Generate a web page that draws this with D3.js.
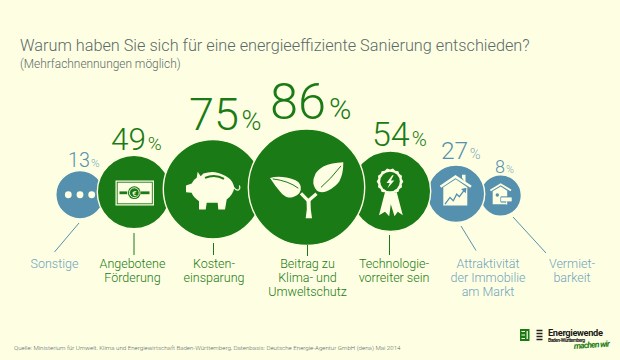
<!DOCTYPE html>
<html><head><meta charset="utf-8">
<script src="https://cdn.jsdelivr.net/npm/d3@7"></script>
<style>html,body{margin:0;padding:0;background:#FEFFE2;overflow:hidden}text{font-family:Roboto,sans-serif;font-weight:300}</style>
</head><body><svg id="c" width="620" height="360"></svg>
<script>
const categories = [["Sonstige"],["Angebotene","Förderung"],["Kosten-","einsparung"],["Beitrag zu","Klima- und","Umweltschutz"],["Technologie-","vorreiter sein"],["Attraktivität","der Immobilie","am Markt"],["Vermiet-","barkeit"]];
const values = [13,49,75,86,54,27,8];
const highlighted = [false,true,true,true,true,false,false];
const icons = ["dots","money","pig","plant","award","houseChart","houseSign"];
const title = "Warum haben Sie sich für eine energieeffiziente Sanierung entschieden?";
const subtitle = "(Mehrfachnennungen möglich)";
const source = "Quelle: Ministerium für Umwelt, Klima und Energiewirtschaft Baden-Württemberg, Datenbasis: Deutsche Energie-Agentur GmbH (dena) Mai 2014";

const BG="#FEFFE2",GREEN="#1A7A15",BLUE="#5590AE",LBLUE="#6FA3BE",TEXT="#5C6A6A";
const svg=d3.select("#c");
svg.append("rect").attr("width",620).attr("height",360).attr("fill",BG);
svg.append("text").attr("x",20).attr("y",50.5).attr("font-size",16.25).attr("fill",TEXT).text(title);
svg.append("text").attr("x",20).attr("y",68).attr("font-size",11.9).attr("fill",TEXT).text(subtitle);

const r=d3.scaleLinear().domain([8,13,27,49,54,75,86]).range([20,23.5,28,36,39.5,49,57.5]);
const cyOf=d3.scaleLinear().domain([20,57.5]).range([195.5,187.3]);
const overlap=[5.5,6,13,13,2,3.3];
const nodes=[];let cx=80;
values.forEach((v,i)=>{ if(i>0) cx+=r(values[i-1])+r(v)-overlap[i-1]; nodes.push({v,i,cx,cy:cyOf(r(v)),r:r(v)}); });

const order=d3.range(values.length).sort((a,b)=>values[a]-values[b]);
const gc=svg.append("g");
order.forEach(i=>{const n=nodes[i];
  gc.append("circle").attr("cx",n.cx).attr("cy",n.cy).attr("r",n.r+0.7).attr("fill",highlighted[i]?GREEN:BLUE).attr("stroke",BG).attr("stroke-width",1.4);
  const g=gc.append("g").attr("transform",`translate(${n.cx},${n.cy})`);
  drawIcon(g,icons[i],highlighted[i]?GREEN:BLUE);
});

function drawIcon(g,k,col){
  const P=(d,f=BG)=>g.append("path").attr("d",d).attr("fill",f);
  const S=(d,w=1,c=BG)=>g.append("path").attr("d",d).attr("fill","none").attr("stroke",c).attr("stroke-width",w);
  if(k==="dots"){[-11.7,0,11.7].forEach(x=>g.append("circle").attr("cx",x).attr("r",3.4).attr("fill",BG));}
  if(k==="money"){
    g.append("rect").attr("x",-18.5).attr("y",-11.5).attr("width",38.5).attr("height",25).attr("fill",BG);
    g.append("rect").attr("x",-16.8).attr("y",-9.8).attr("width",35.1).attr("height",21.6).attr("fill","none").attr("stroke",col).attr("stroke-width",.9);
    g.append("rect").attr("x",-14.5).attr("y",-.6).attr("width",30).attr("height",2.8).attr("fill",col);
    g.append("rect").attr("x",-6.8).attr("y",-.9).attr("width",13.6).attr("height",3.4).attr("fill",BG);
    g.append("circle").attr("cx",0.3).attr("cy",.7).attr("r",6.4).attr("fill",col);
    g.append("circle").attr("cx",0.3).attr("cy",.7).attr("r",4.9).attr("fill","none").attr("stroke",BG).attr("stroke-width",.9);
    g.append("text").attr("x",0.3).attr("y",3.6).attr("text-anchor","middle").attr("font-size",8).attr("fill",BG).style("font-weight",500).text("€");
  }
  if(k==="pig"){
    P("M-27,-3.6 L-27,3 L-21.3,3.7 Q-20,8 -14,12 L-14,20.4 L-7.3,20.4 L-6.3,13.7 L4.7,13.7 L5.3,20.4 L12,20.4 L13.7,10.4 Q20,6 21.3,-1.3 Q20,-8 15.3,-11.3 Q9,-16 2,-17 Q-4,-17.5 -9.7,-15.6 L-12.3,-13 L-15.3,-17.3 L-16.3,-11.3 Q-20,-9 -21.3,-5.6 Z");
    S("M21,-1.5 Q23,1.5 25.5,0.8 Q27.8,-.8 26.3,-3.6",1.1);
    S("M-8,-11.3 Q2,-15.5 11,-10.3",1.9,col);
  }
  if(k==="plant"){
    P("M-36.5,-9.4 Q-26,-12.5 -11.5,-7.4 Q-6.5,-5 -5.8,-.7 Q-5,3 -7.2,5.9 Q-12,10.5 -18.2,10.3 Q-23,9 -26.5,4.3 Q-31,-1 -36.5,-9.4 Z");
    S("M-33.8,-8.4 Q-18,-6.5 -8.2,.9",1,col);
    P("M36.8,-25 Q25,-24.5 16.8,-20.7 Q10.5,-17 8.5,-12.4 Q6.2,-8 6.8,-4 Q8,2 11.8,4.3 Q17,6 21.8,3.3 Q29,-.5 32.8,-5.7 Q37,-14 36.8,-25 Z");
    S("M34.5,-21.4 Q24,-8 14.5,0",1,col);
    S("M-5.5,6 L1.8,13.5 L10,6.5",3.2);
    P("M0,12 L4,12 L4.3,22 L5.5,31 L-.8,31 L.3,22 Z");
  }
  if(k==="award"){
    const n=14,spikes=d3.range(n*2).map(i=>{const a=i/(n*2)*2*Math.PI,rr=i%2?12:13.3;return [-.5+rr*Math.cos(a),-9.7+rr*Math.sin(a)];});
    P(d3.line()(spikes)+"Z");
    g.append("circle").attr("cx",-.5).attr("cy",-9.7).attr("r",9.8).attr("fill",col);
    P("M1.7,-16 L-4,-8.3 L-.7,-8.3 L-3,-3 L3.8,-10.8 L0.4,-10.8 L3.2,-16 Z");
    P("M-5.5,.8 L-11.5,24 L-5.5,20.5 L-1.3,25 L.3,13 L4,25 L7.3,20.5 L12.3,24 L6.2,.8 Q.3,3 -5.5,.8 Z");
  }
  if(k==="houseChart"){
    S("M-15.5,-7 L-.5,-17.2 L15,-7",2.6);
    P("M6,-16 L6,-19 L9.5,-19 L9.5,-11 Z");
    P("M-12.7,-6.6 L-.3,-14.4 L11.3,-6.6 L11.3,11.7 L-12.7,11.7 Z");
    S("M-11,10.4 L-6,3.7 L-2.7,7 L.7,.4 L3.3,3 L8.5,-3.8",1.3,col);
    P("M5,-4.8 L10.5,-6 L9.8,-.5 Z",col);
  }
  if(k==="houseSign"){
    S("M-10.3,-5 L0,-11.2 L10.3,-5",1.9);
    P("M-8,-4.3 L0,-9 L6.5,-4.8 L6.5,.9 L.3,.9 L.3,7 L4.5,7 L6,8.8 L-8,8.8 Z");
    g.append("circle").attr("cx",-3.4).attr("cy",-.5).attr("r",1.7).attr("fill",col);
    g.append("rect").attr("x",-.3).attr("y",1.2).attr("width",12).attr("height",5.4).attr("fill",col);
    g.append("rect").attr("x",.4).attr("y",1.9).attr("width",10.6).attr("height",4).attr("fill",BG);
    g.append("rect").attr("x",5.2).attr("y",5.9).attr("width",1.3).attr("height",3).attr("fill",BG);
  }
}

// percentage labels
const pctSize=[19.7,31.5,45,50.5,34,24.5,18];
const pctLeft=[68,111,189,270,372,441,495];
const pctBase=[167,150,130,119,146,159,173];
const gt=svg.append("g");
nodes.forEach(n=>{
  const col=highlighted[n.i]?GREEN:BLUE, fs=pctSize[n.i];
  const t=gt.append("text").attr("x",pctLeft[n.i]).attr("y",pctBase[n.i]).attr("fill",col);
  t.append("tspan").attr("font-size",fs).text(n.v);
  t.append("tspan").attr("font-size",fs*0.6).attr("dx",fs*0.06).attr("fill-opacity",highlighted[n.i]?1:.8).text("%");
});

// leaders and labels
const labelX=[54.5,132.5,214,307.5,394,488,572];
const leaderEnds=[[79,223,54.5,252],[134,233,134,255],[213.5,243,213.5,255],[307.5,245,307.5,256],[389.5,235,389.5,255],[461,226,476,250.5],[513,217,546,253]];
nodes.forEach(n=>{
  const col=highlighted[n.i]?GREEN:BLUE, e=leaderEnds[n.i];
  gt.append("line").attr("x1",e[0]).attr("y1",e[1]).attr("x2",e[2]).attr("y2",e[3]).attr("stroke",col).attr("stroke-width",1);
  categories[n.i].forEach((s,j)=>{
    gt.append("text").attr("x",labelX[n.i]).attr("y",267.5+j*14.2).attr("text-anchor","middle").attr("font-size",12.5).attr("fill",highlighted[n.i]?GREEN:LBLUE).text(s);
  });
});

svg.append("text").attr("x",14).attr("y",350).attr("font-size",6.15).attr("fill",TEXT).text(source);

// logo
const lg=svg.append("g");
lg.append("rect").attr("x",520).attr("y",329).attr("width",9.5).attr("height",12).attr("fill",GREEN);
lg.append("path").attr("d","M521.5,331.5h3.5M521.5,335h3.5M521.5,338.5h3.5M527.2,331v8").attr("stroke",BG).attr("stroke-width",1.2).attr("fill","none");
lg.append("path").attr("d","M536.5,330.5h6M536.5,333.5h6M536.5,336.5h6M536.5,339.5h6").attr("stroke","#222").attr("stroke-width",1.7).attr("fill","none");
lg.append("text").attr("x",548).attr("y",335.5).attr("font-size",9.3).attr("textLength",55).attr("fill","#1a1a1a").style("font-weight",700).text("Energiewende");
lg.append("text").attr("x",548).attr("y",341.5).attr("font-size",5).attr("textLength",37).attr("fill","#1a1a1a").style("font-weight",700).text("Baden-Württemberg");
lg.append("text").attr("x",574).attr("y",349).attr("font-size",8.5).attr("textLength",36).attr("fill",GREEN).attr("font-style","italic").style("font-weight",700).attr("transform","rotate(-4 574 349)").text("machen wir");
</script></body></html>
